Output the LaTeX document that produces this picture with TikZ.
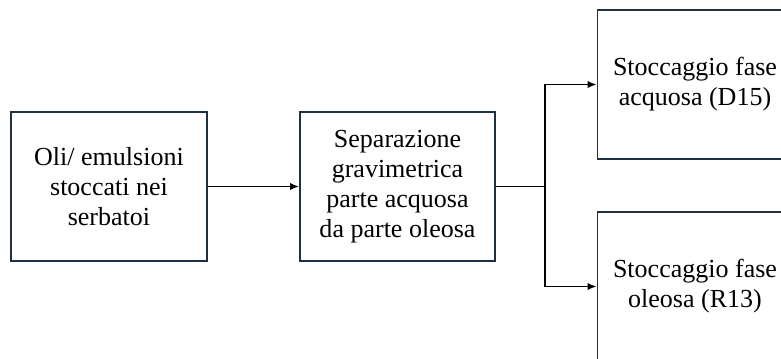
\documentclass[tikz,border=0pt]{standalone}
\usepackage{fontspec}
\setmainfont{Liberation Serif}
\usepackage{xcolor}
\usetikzlibrary{arrows.meta}
\definecolor{boxline}{HTML}{1F3043}

\begin{document}
\begin{tikzpicture}[x=0.025cm, y=-0.025cm,
    box/.style={draw=boxline, line width=1.4pt, minimum width=4.875cm,
        minimum height=3.725cm, align=center, inner sep=0pt,
        font=\fontsize{18.5}{21.3}\selectfont},
    link/.style={line width=1pt, -{Latex[length=2.2mm, width=1.8mm]}}]
    \useasboundingbox (0,0) rectangle (781,358);

    \node[box] (oli) at (109,186.5) {Oli/ emulsioni\\stoccati nei\\serbatoi};
    \node[box] (sep) at (397.5,186.5) {Separazione\\gravimetrica\\parte acquosa\\da parte oleosa};
    \node[box] (acq) at (695,84.5) {Stoccaggio fase\\acquosa (D15)};
    \node[box] (oleo) at (695,286.5) {Stoccaggio fase\\oleosa (R13)};

    \coordinate (split) at (545,186.5);
    \draw[link] (oli) -- (sep);
    \draw[line width=1pt] (sep) -- (split);
    \draw[link] (split) |- (acq.west);
    \draw[link] (split) |- (oleo.west);
\end{tikzpicture}
\end{document}
